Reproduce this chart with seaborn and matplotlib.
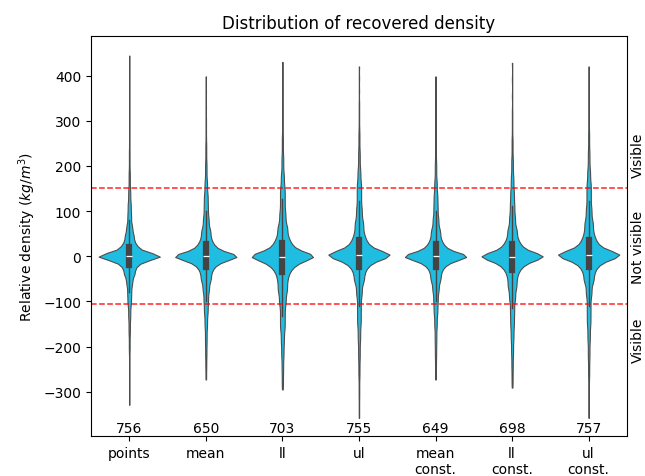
import numpy as np
import pandas as pd
import matplotlib
matplotlib.use("Agg")
import matplotlib.pyplot as plt
import matplotlib.transforms as mtransforms
import seaborn as sns

# Methods compared and the number of recovered points for each
methods = ["points", "mean", "ll", "ul", "mean\nconst.", "ll\nconst.", "ul\nconst."]
counts = [756, 650, 703, 755, 649, 698, 757]

# Percentile levels at which each distribution is described
percentiles = [0, 0.4, 1, 2, 3.5, 5.5, 8, 11, 15, 21, 25, 30, 34, 40, 44, 50,
               56, 60, 66, 70, 75, 79, 85, 89, 92, 94.5, 96.5, 98, 99, 99.6, 100]

# Relative density (kg/m^3) at those percentile levels, per method
q_points = [-329, -270, -215, -175, -140, -110, -88, -65, -45, -28, -19,
            -12, -8.3, -4.2, -2.1, 0, 2.2, 4.4, 8.7, 13.3,
            21, 30, 50, 70, 95, 120, 150, 190, 240, 310, 444]
q_mean = [-273, -250, -225, -195, -160, -130, -105, -80, -57, -35, -24,
          -15.1, -10.5, -5.3, -2.6, 0, 2.7, 5.4, 10.7, 16.4,
          26, 37.8, 62, 88, 115, 140, 170, 210, 255, 310, 398]
q_ll = [-295, -278, -255, -225, -195, -165, -140, -110, -82, -52, -36,
        -23, -16.3, -8.7, -4.9, -1, 2.1, 5.2, 11.3, 17.8,
        29, 42, 70, 100, 130, 155, 185, 225, 270, 330, 430]
q_ul = [-358, -315, -270, -230, -190, -155, -125, -90, -60, -35, -23,
        -13.4, -8.4, -2.8, 0.1, 3, 6.4, 9.7, 16.3, 23.3,
        35.5, 50, 80, 110, 140, 165, 195, 235, 280, 340, 420]
q_mean_const = [-273, -250, -225, -195, -160, -130, -105, -80, -57, -35, -24,
                -15.1, -10.5, -5.3, -2.6, 0, 2.7, 5.4, 10.7, 16.4,
                26, 37.8, 62, 88, 115, 140, 170, 210, 255, 310, 398]
q_ll_const = [-291, -273, -250, -220, -188, -158, -130, -100, -73, -45, -31,
              -20, -14.1, -7.6, -4.3, -1, 1.8, 4.6, 10.1, 16,
              26, 38, 64, 92, 120, 148, 180, 220, 265, 325, 428]
q_ul_const = [-358, -315, -270, -230, -190, -155, -125, -90, -60, -35, -23,
              -13.4, -8.4, -2.8, 0.1, 3, 6.4, 9.7, 16.3, 23.3,
              35.5, 50, 80, 110, 140, 165, 195, 235, 280, 340, 420]

quantile_tables = [q_points, q_mean, q_ll, q_ul, q_mean_const, q_ll_const, q_ul_const]

# Visibility thresholds
upper_limit = 150
lower_limit = -105

# Expand each quantile table into one observation per recovered point
rows = []
for name, n, table in zip(methods, counts, quantile_tables):
    levels = np.linspace(0, 100, n)
    values = np.interp(levels, percentiles, table)
    rows.append(pd.DataFrame({"method": name, "density": values}))
df = pd.concat(rows, ignore_index=True)

fig, ax = plt.subplots(figsize=(6.45, 4.77), dpi=100)
fig.subplots_adjust(left=0.141, right=0.972, top=0.922, bottom=0.084)

sns.violinplot(data=df, x="method", y="density", order=methods,
               color="#1fbde2", saturation=1, density_norm="width",
               bw_adjust=0.25, cut=0, inner="box", linewidth=0.8,
               inner_kws=dict(box_width=4.5, whis_width=1.0, color="#444444"),
               ax=ax)

ax.axhline(upper_limit, color="red", linestyle="--", linewidth=1.1, alpha=0.85)
ax.axhline(lower_limit, color="red", linestyle="--", linewidth=1.1, alpha=0.85)

ax.set_ylim(-398, 487)
ax.set_xlim(-0.5, 6.5)
ax.set_xlabel("")
ax.set_ylabel("Relative density ($kg/m^3$)")
ax.set_title("Distribution of recovered density")

# Point counts under each violin
for i, n in enumerate(counts):
    ax.text(i, -380, str(n), ha="center", va="center", fontsize=10)

# Visibility zones on the right
trans = mtransforms.blended_transform_factory(ax.transAxes, ax.transData)
ax.text(1.021, 225, "Visible", rotation=90, ha="center", va="center", transform=trans)
ax.text(1.021, 22.5, "Not visible", rotation=90, ha="center", va="center", transform=trans)
ax.text(1.021, -185, "Visible", rotation=90, ha="center", va="center", transform=trans)

fig.savefig("out.png", dpi=100)
